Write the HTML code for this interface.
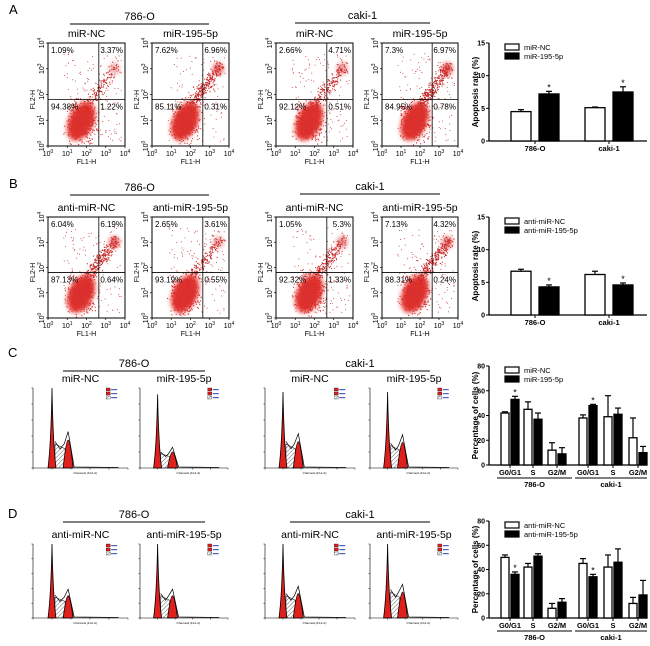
<!DOCTYPE html>
<html><head><meta charset="utf-8"><style>
body{margin:0;background:#fff}
svg{display:block;font-family:"Liberation Sans",Arial,sans-serif}
</style></head><body>
<svg id="fig" width="650" height="646" viewBox="0 0 650 646" xmlns="http://www.w3.org/2000/svg">
<defs>
<pattern id="hatch" width="3" height="3" patternUnits="userSpaceOnUse" patternTransform="rotate(45)"><rect width="3" height="3" fill="#fff"/><line x1="0" y1="0" x2="0" y2="3" stroke="#444" stroke-width="0.8"/></pattern>
<filter id="blur" x="-50%" y="-50%" width="200%" height="200%"><feGaussianBlur stdDeviation="2.5"/></filter>
</defs>
<g id="root"></g>
</svg>
<script>
// ---- bar chart data ----
const groupsAB = ["786-O", "caki-1"];
const apopA_ctrl = [4.5, 5.1];
const apopA_trt = [7.2, 7.5];
const apopA_ctrlErr = [0.3, 0.1];
const apopA_trtErr = [0.4, 0.8];
const apopB_ctrl = [6.7, 6.2];
const apopB_trt = [4.3, 4.6];
const apopB_ctrlErr = [0.3, 0.5];
const apopB_trtErr = [0.3, 0.3];
const apopTicks = [0, 5, 10, 15];
const phases = ["G0/G1", "S", "G2/M", "G0/G1", "S", "G2/M"];
const cycC_ctrl = [42, 45, 12, 38, 39, 22];
const cycC_trt = [53, 37, 9, 48, 41, 10];
const cycC_ctrlErr = [1, 6, 6, 2.5, 17, 16];
const cycC_trtErr = [2.5, 5, 5, 1, 5, 5];
const cycD_ctrl = [50, 42, 8, 45, 42, 12];
const cycD_trt = [36, 51, 13, 34, 46, 19];
const cycD_ctrlErr = [2, 3, 4, 4, 10, 5];
const cycD_trtErr = [2, 2, 3, 2, 11, 12];
const cycTicks = [0, 20, 40, 60, 80];

const NS = "http://www.w3.org/2000/svg";
const root = document.getElementById("root");
function el(tag, attrs, parent, text) {
  const e = document.createElementNS(NS, tag);
  for (const k in attrs) e.setAttribute(k, attrs[k]);
  if (text !== undefined) e.textContent = text;
  (parent || root).appendChild(e);
  return e;
}
function txt(x, y, s, size, parent, anchor, extra) {
  const a = {x: x, y: y, "font-size": size, "text-anchor": anchor || "middle", fill: "#000"};
  if (extra) for (const k in extra) a[k] = extra[k];
  return el("text", a, parent, s);
}
let seed = 7;
function rnd() { seed = (seed * 16807) % 2147483647; return seed / 2147483647; }
function gauss() { return (rnd() + rnd() + rnd() - 1.5) / 1.5; }

[["A", 9, 14], ["B", 9, 188], ["C", 8, 357], ["D", 8, 518]].forEach(p => {
  const t = txt(p[1], p[2], p[0], 13, root, "start");
  
  
});

function header(x1, x2, ly, label, size) {
  const g = el("g", {});
  
  
  txt((x1 + x2) / 2, ly - 4, label, size || 11, g);
  el("line", {x1: x1, x2: x2, y1: ly, y2: ly, stroke: "#000", "stroke-width": 1}, g);
}

// ---- flow scatter plots (decorative dot clouds) ----
function flow(x, y, w, h, title, pcts, hiUR) {
  const g = el("g", {});
  
  
  txt(x + w / 2, y - 6, title, 10.5, g);
  const inside = (cx, cy) => cx > x + 1 && cx < x + w - 1 && cy > y + 1 && cy < y + h - 1;
  // sparse background dots
  for (let i = 0; i < 140; i++) {
    const cx = x + w * (0.2 + rnd() * 0.75), cy = y + h * (0.1 + rnd() * 0.85);
    if (inside(cx, cy)) el("rect", {x: cx, y: cy, width: 0.9, height: 0.9, fill: "#c84040"}, g);
  }
  const bx = x + w * 0.43, by = y + h * 0.76;
  el("ellipse", {cx: bx, cy: by, rx: w * 0.16, ry: h * 0.2, fill: "#e2332c", filter: "url(#blur)", transform: `rotate(25 ${bx} ${by})`}, g);
  for (let i = 0; i < 500; i++) {
    const cx = bx + w * gauss() * 0.25, cy = by + h * gauss() * 0.26;
    if (inside(cx, cy)) el("rect", {x: cx, y: cy, width: 1.1, height: 1.1, fill: "#d83030"}, g);
  }
  for (let i = 0; i < 220 * hiUR; i++) {
    const t = rnd();
    const cx = x + w * (0.5 + t * 0.38 + gauss() * 0.1), cy = y + h * (0.6 - t * 0.38 + gauss() * 0.1);
    if (inside(cx, cy)) el("rect", {x: cx, y: cy, width: 1.1, height: 1.1, fill: "#c82828"}, g);
  }
  el("ellipse", {cx: x + w * 0.86, cy: y + h * 0.25, rx: w * 0.07, ry: h * 0.06, fill: "#d83030", filter: "url(#blur)", opacity: Math.min(1, 0.6 * hiUR)}, g);
  el("rect", {x: x, y: y, width: w, height: h, fill: "none", stroke: "#000", "stroke-width": 1}, g);
  const vx = x + w * 0.66, hy = y + h * 0.55;
  el("line", {x1: vx, x2: vx, y1: y, y2: y + h, stroke: "#000", "stroke-width": 0.8}, g);
  el("line", {x1: x, x2: x + w, y1: hy, y2: hy, stroke: "#000", "stroke-width": 0.8}, g);
  txt(x + 3, y + 10, pcts[0], 8, g, "start");
  txt(x + w - 2, y + 10, pcts[1], 8, g, "end");
  txt(x + 3, hy + 10, pcts[2], 8, g, "start");
  txt(x + w - 2, hy + 10, pcts[3], 8, g, "end");
  for (let i = 0; i <= 4; i++) {
    const tx = x + w * i / 4, ty = y + h - h * i / 4;
    el("line", {x1: tx, x2: tx, y1: y + h, y2: y + h + 2, stroke: "#000", "stroke-width": 0.7}, g);
    el("line", {x1: x, x2: x - 2, y1: ty, y2: ty, stroke: "#000", "stroke-width": 0.7}, g);
    const t1 = txt(tx, y + h + 10, "10", 7, g);
    el("tspan", {dy: -3, "font-size": 5}, t1, String(i));
    const t2 = txt(x - 4, ty, "10", 7, g, "middle", {transform: `rotate(-90 ${x - 4} ${ty})`});
    el("tspan", {dy: -3, "font-size": 5}, t2, String(i));
  }
  txt(x + w / 2, y + h + 18, "FL1-H", 7, g);
  txt(x - 13, y + h * 0.55, "FL2-H", 7, g, "middle", {transform: `rotate(-90 ${x - 13} ${y + h * 0.55})`});
}
header(70, 209, 24, "786-O");
header(295, 430, 23, "caki-1");
flow(48, 43, 77, 103, "miR-NC", ["1.09%", "3.37%", "94.38%", "1.22%"], 0.6);
flow(152, 43, 77, 103, "miR-195-5p", ["7.62%", "6.96%", "85.11%", "0.31%"], 1.2);
flow(276, 43, 77, 103, "miR-NC", ["2.66%", "4.71%", "92.12%", "0.51%"], 0.8);
flow(382, 43, 76, 103, "miR-195-5p", ["7.3%", "6.97%", "84.95%", "0.78%"], 1.3);
header(70, 209, 195, "786-O");
header(300, 440, 194, "caki-1");
flow(48, 217, 77, 101, "anti-miR-NC", ["6.04%", "6.19%", "87.13%", "0.64%"], 1.2);
flow(152, 217, 77, 101, "anti-miR-195-5p", ["2.65%", "3.61%", "93.19%", "0.55%"], 0.7);
flow(276, 217, 77, 101, "anti-miR-NC", ["1.05%", "5.3%", "92.32%", "1.33%"], 0.9);
flow(382, 217, 76, 101, "anti-miR-195-5p", ["7.13%", "4.32%", "88.31%", "0.24%"], 1.1);

// ---- cell cycle histograms ----
function hist(x, y, w, h, title, g1, s, g2) {
  const g = el("g", {});
  
  
  txt(x + w / 2, y - 6, title, 10.5, g);
  const b = y + h, p1 = x + w * 0.2, p2 = x + w * 0.37;
  el("path", {d: `M${p1 + 3} ${b} L${p1 + 3} ${b - h * s} L${p2 - 3} ${b - h * s * 0.8} L${p2 - 3} ${b} Z`, fill: "url(#hatch)", stroke: "#333", "stroke-width": 0.6}, g);
  el("path", {d: `M${p1 - 4} ${b} Q${p1 - 1} ${b - h * g1 * 0.3} ${p1} ${b - h * g1} Q${p1 + 1} ${b - h * g1 * 0.3} ${p1 + 4} ${b} Z`, fill: "#e0201c", stroke: "#000", "stroke-width": 0.8}, g);
  el("path", {d: `M${p2 - 5} ${b} Q${p2 - 2} ${b - h * g2} ${p2} ${b - h * g2} Q${p2 + 2} ${b - h * g2} ${p2 + 5} ${b} Z`, fill: "#e0201c", stroke: "#000", "stroke-width": 0.8}, g);
  el("path", {d: `M${p1 + 3} ${b - h * s * 1.1} L${p1 + 8} ${b - h * s * 0.8} L${p2 - 4} ${b - h * s} L${p2} ${b - h * g2 * 1.3} L${p2 + 6} ${b - 1} L${x + w * 0.9} ${b - 0.5}`, fill: "none", stroke: "#000", "stroke-width": 0.7}, g);
  el("line", {x1: x, x2: x + w, y1: b, y2: b, stroke: "#000", "stroke-width": 0.6}, g);
  el("line", {x1: x, x2: x, y1: y, y2: b, stroke: "#000", "stroke-width": 0.6}, g);
  for (let i = 0; i <= 5; i++) {
    el("line", {x1: x + w * i / 5, x2: x + w * i / 5, y1: b, y2: b + 1.5, stroke: "#000", "stroke-width": 0.5}, g);
    el("line", {x1: x, x2: x - 1.5, y1: b - h * i / 5, y2: b - h * i / 5, stroke: "#000", "stroke-width": 0.5}, g);
  }
  txt(x + w * 0.55, b + 6, "Channels (FL2-A)", 3, g);
  const lx = x + w * 0.77;
  [["#e0201c", 0], ["#e0201c", 4], ["url(#hatch)", 8]].forEach(c => {
    el("rect", {x: lx, y: y + c[1], width: 4, height: 3, fill: c[0], stroke: "#000", "stroke-width": 0.3}, g);
    el("rect", {x: lx + 5, y: y + c[1] + 1, width: 6, height: 1.2, fill: "#5060c0"}, g);
  });
}
header(63, 205, 371, "786-O");
header(290, 430, 371, "caki-1");
hist(33, 388, 95, 80, "miR-NC", 1.0, 0.3, 0.35);
hist(140, 388, 88, 80, "miR-195-5p", 0.92, 0.18, 0.2);
hist(265, 388, 90, 80, "miR-NC", 0.95, 0.3, 0.33);
hist(370, 388, 88, 80, "miR-195-5p", 0.95, 0.28, 0.32);
header(63, 205, 522, "786-O");
header(290, 430, 522, "caki-1");
hist(33, 544, 95, 74, "anti-miR-NC", 1.0, 0.28, 0.3);
hist(140, 544, 88, 74, "anti-miR-195-5p", 1.0, 0.3, 0.3);
hist(265, 544, 90, 74, "anti-miR-NC", 1.0, 0.3, 0.33);
hist(370, 544, 88, 74, "anti-miR-195-5p", 1.0, 0.35, 0.35);

// ---- bar charts ----
function barChart(cfg) {
  const g = el("g", {});
  
  
  const ax = 489, xr = 647;
  const ticks = cfg.ticks, max = ticks[ticks.length - 1];
  const yS = v => cfg.y0 - (v / max) * (cfg.y0 - cfg.yTop);
  el("line", {x1: ax, x2: ax, y1: cfg.yTop, y2: cfg.y0, stroke: "#000", "stroke-width": 1.3}, g);
  el("line", {x1: ax, x2: xr, y1: cfg.y0, y2: cfg.y0, stroke: "#000", "stroke-width": 1.3}, g);
  ticks.forEach(t => {
    el("line", {x1: ax - 3, x2: ax, y1: yS(t), y2: yS(t), stroke: "#000", "stroke-width": 1}, g);
    txt(ax - 4, yS(t) + 2.5, String(t), 7, g, "end", {"font-weight": "bold"});
  });
  const ymid = (cfg.yTop + cfg.y0) / 2;
  const yt = txt(478, ymid, cfg.ytitle, 8, g, "middle", {"font-weight": "bold", transform: `rotate(-90 478 ${ymid})`});
  
  
  [[cfg.labels[0], "#fff"], [cfg.labels[1], "#000"]].forEach((l, i) => {
    const ly = cfg.yTop + 1 + i * 9;
    const lg = el("g", {}, g);
    
    
    el("rect", {x: 505, y: ly, width: 14, height: 6, fill: l[1], stroke: "#000", "stroke-width": 1.2}, lg);
    txt(524, ly + 6, l[0], 7.5, lg, "start");
  });
  cfg.centers.forEach((c, i) => {
    [[cfg.ctrl, cfg.ctrlErr, "#fff", -1], [cfg.trt, cfg.trtErr, "#000", 1]].forEach((s, j) => {
      const v = s[0][i], e = s[1][i];
      const bx = s[3] < 0 ? c - cfg.gap - cfg.bw : c + cfg.gap;
      const top = yS(v), et = yS(v + e);
      el("line", {x1: bx + cfg.bw / 2, x2: bx + cfg.bw / 2, y1: top, y2: et, stroke: "#000", "stroke-width": 1.2}, g);
      el("line", {x1: bx + cfg.bw / 2 - 3, x2: bx + cfg.bw / 2 + 3, y1: et, y2: et, stroke: "#000", "stroke-width": 1.2}, g);
      const r = el("rect", {x: bx, y: top, width: cfg.bw, height: cfg.y0 - top, fill: s[2], stroke: "#000", "stroke-width": 1.3}, g);
      
      
      if (cfg.star && cfg.star[i] === j) txt(bx + cfg.bw / 2, et - 1, "*", 9, g);
    });
    el("line", {x1: c, x2: c, y1: cfg.y0, y2: cfg.y0 + 3, stroke: "#000", "stroke-width": 1}, g);
    txt(c, cfg.y0 + 10, cfg.cats[i], 7.5, g, "middle", {"font-weight": "bold"});
  });
  if (cfg.under) {
    cfg.under.forEach(u => {
      el("line", {x1: u[0], x2: u[1], y1: cfg.y0 + 13, y2: cfg.y0 + 13, stroke: "#000", "stroke-width": 1}, g);
      txt((u[0] + u[1]) / 2, cfg.y0 + 22, u[2], 7.5, g, "middle", {"font-weight": "bold"});
    });
  }
}
barChart({name: "apoptosis-chart-a", ticks: apopTicks, yTop: 43, y0: 141, ytitle: "Apoptosis rate (%)", labels: ["miR-NC", "miR-195-5p"],
  cats: groupsAB, centers: [535, 609], ctrl: apopA_ctrl, trt: apopA_trt, ctrlErr: apopA_ctrlErr, trtErr: apopA_trtErr, bw: 20, gap: 4, star: [1, 1]});
barChart({name: "apoptosis-chart-b", ticks: apopTicks, yTop: 217, y0: 315, ytitle: "Apoptosis rate (%)", labels: ["anti-miR-NC", "anti-miR-195-5p"],
  cats: groupsAB, centers: [535, 609], ctrl: apopB_ctrl, trt: apopB_trt, ctrlErr: apopB_ctrlErr, trtErr: apopB_trtErr, bw: 20, gap: 4, star: [1, 1]});
barChart({name: "cell-cycle-chart-c", ticks: cycTicks, yTop: 366, y0: 465, ytitle: "Percentage of cells (%)", labels: ["miR-NC", "miR-195-5p"],
  cats: phases, centers: [510, 533, 557, 588, 613, 638], ctrl: cycC_ctrl, trt: cycC_trt, ctrlErr: cycC_ctrlErr, trtErr: cycC_trtErr, bw: 8, gap: 1,
  star: [1, -1, -1, 1, -1, -1], under: [[497, 572, "786-O"], [575, 647, "caki-1"]]});
barChart({name: "cell-cycle-chart-d", ticks: cycTicks, yTop: 521, y0: 618, ytitle: "Percentage of cells (%)", labels: ["anti-miR-NC", "anti-miR-195-5p"],
  cats: phases, centers: [510, 533, 557, 588, 613, 638], ctrl: cycD_ctrl, trt: cycD_trt, ctrlErr: cycD_ctrlErr, trtErr: cycD_trtErr, bw: 8, gap: 1,
  star: [1, -1, -1, 1, -1, -1], under: [[497, 572, "786-O"], [575, 647, "caki-1"]]});
</script>
</body></html>
